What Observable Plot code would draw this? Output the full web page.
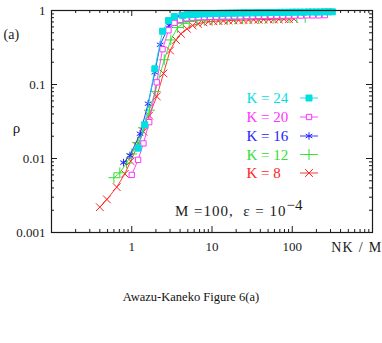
<!DOCTYPE html>
<html><head><meta charset="utf-8">
<script src="https://cdn.jsdelivr.net/npm/d3@7"></script>
<script src="https://cdn.jsdelivr.net/npm/@observablehq/plot@0.6"></script>
<style>
body{margin:0;background:#fff;}
#chart{position:relative;width:382px;height:343px;overflow:hidden;}
#chart svg{display:block;}
#caption{position:absolute;top:290px;left:0;width:382px;text-align:center;font:12.5px "Liberation Serif","Times New Roman",serif;color:#111;}
</style></head><body>
<div id="chart"><div id="caption">Awazu-Kaneko Figure 6(a)</div></div>
<script>
// ---- data (NK/M, rho) ----
const x24 = [1.2, 1.45, 1.94, 2.42, 2.87, 3.38, 4.3, 5, 5.6, 6.3, 7, 8, 9, 10, 11.2, 12.6, 14, 16, 18, 20, 22.4, 25, 28, 32, 36, 40, 45, 50, 56, 63, 71, 80, 90, 100, 112, 126, 141, 158, 178, 200, 224, 251, 282, 316];
const y24 = [0.0138, 0.0286, 0.163, 0.525, 0.73, 0.83, 0.86, 0.875, 0.885, 0.89, 0.895, 0.90, 0.905, 0.91, 0.91, 0.915, 0.915, 0.92, 0.92, 0.925, 0.925, 0.93, 0.93, 0.93, 0.935, 0.935, 0.935, 0.94, 0.94, 0.94, 0.945, 0.945, 0.945, 0.95, 0.95, 0.95, 0.95, 0.955, 0.955, 0.955, 0.955, 0.96, 0.96, 0.96];
const x20 = [1.0, 1.2, 1.4, 1.65, 2.05, 2.42, 2.87, 3.4, 4.0, 4.8, 5.7, 6.8, 8, 9.5, 11.3, 13.5, 16, 19, 22.6, 27, 32, 38, 45, 54, 64, 76, 90, 107, 128, 152, 180, 214, 255];
const y20 = [0.006, 0.0096, 0.016, 0.031, 0.107, 0.30, 0.54, 0.68, 0.75, 0.785, 0.80, 0.81, 0.815, 0.82, 0.825, 0.83, 0.83, 0.835, 0.835, 0.84, 0.84, 0.845, 0.845, 0.85, 0.85, 0.85, 0.855, 0.855, 0.855, 0.86, 0.86, 0.86, 0.865];
const x16 = [0.79, 0.95, 1.27, 1.6, 1.94, 2.26, 2.93, 3.4, 3.9, 4.6, 5.5, 6.6, 8, 10, 12.5, 16, 20, 25, 32, 40, 50, 63, 80, 100, 126, 160, 200];
const y16 = [0.0088, 0.011, 0.0216, 0.055, 0.146, 0.344, 0.63, 0.78, 0.84, 0.865, 0.875, 0.88, 0.885, 0.89, 0.89, 0.895, 0.895, 0.90, 0.90, 0.905, 0.905, 0.91, 0.91, 0.91, 0.915, 0.915, 0.915];
const x12 = [0.60, 0.71, 0.86, 1.0, 1.18, 1.40, 1.66, 1.96, 2.54, 3.07, 3.72, 4.4, 5.2, 6.5, 8, 10, 12.5, 15.5, 19.5, 24, 30, 38, 47, 59, 73, 91, 114, 145];
const y12 = [0.0055, 0.0064, 0.0087, 0.0115, 0.0165, 0.026, 0.045, 0.080, 0.216, 0.40, 0.59, 0.67, 0.71, 0.73, 0.745, 0.755, 0.76, 0.765, 0.77, 0.775, 0.78, 0.785, 0.79, 0.795, 0.80, 0.80, 0.805, 0.81];
const x8 = [0.40, 0.49, 0.65, 0.82, 0.97, 1.17, 1.40, 1.65, 2.05, 2.49, 3.0, 3.55, 4.1, 4.87, 5.74, 6.7, 7.8, 9.0, 10.4, 12, 13.9, 16, 18.5, 21.4, 24.7, 28.5, 33, 38, 44, 51, 59, 68, 79, 91, 105];
const y8 = [0.0022, 0.0028, 0.0041, 0.0062, 0.0092, 0.0145, 0.023, 0.038, 0.069, 0.141, 0.288, 0.40, 0.484, 0.566, 0.627, 0.661, 0.69, 0.705, 0.715, 0.72, 0.725, 0.73, 0.735, 0.74, 0.74, 0.745, 0.75, 0.75, 0.755, 0.755, 0.76, 0.76, 0.765, 0.765, 0.77];

const legendLabels = ["K = 24", "K = 20", "K = 16", "K = 12", "K = 8"];
const xTickLabels = [1, 10, 100];
const yTickLabels = [0.001, 0.01, 0.1, 1];
const xMajor = [1, 10, 100];
const xMinor = [0.2,0.3,0.4,0.5,0.6,0.7,0.8,0.9, 2,3,4,5,6,7,8,9, 20,30,40,50,60,70,80,90, 200,300,400,500,600,700,800,900];
const yMajor = [0.01, 0.1];
const yMinor = [0.002,0.003,0.004,0.005,0.006,0.007,0.008,0.009, 0.02,0.03,0.04,0.05,0.06,0.07,0.08,0.09, 0.2,0.3,0.4,0.5,0.6,0.7,0.8,0.9];

// ---- styling ----
const series = [
  {label: legendLabels[0], xs: x24, ys: y24, color: "#00e0e0", symbol: "square", fill: "#00e0e0", r: 3.4},
  {label: legendLabels[1], xs: x20, ys: y20, color: "#ff33ff", symbol: "square", fill: "white", r: 3.0},
  {label: legendLabels[2], xs: x16, ys: y16, color: "#2222ff", symbol: "asterisk", fill: "none", r: 3.6},
  {label: legendLabels[3], xs: x12, ys: y12, color: "#33dd33", symbol: "plus", fill: "none", r: 3.6},
  {label: legendLabels[4], xs: x8,  ys: y8,  color: "#ff2222", symbol: "times", fill: "none", r: 3.6}
];
const rowsOf = s => s.xs.map((x, i) => ({x, y: s.ys[i]}));

const W = 382, H = 265, mL = 51, mR = 10, mT = 10, mB = 33;
const fw = W - mL - mR, fh = H - mT - mB;
const font = '"Liberation Serif", "Times New Roman", serif';
const ink = "#1a1a1a";

const lineSym = {draw(ctx) { ctx.moveTo(-9, 0); ctx.lineTo(9, 0); }};

const drawOrder = [...series].reverse(); // K=8 first, K=24 on top
const dataMarks = drawOrder.flatMap(s => [
  Plot.line(rowsOf(s), {x: "x", y: "y", stroke: s.color, strokeWidth: 0.9}),
  Plot.dot(rowsOf(s), {x: "x", y: "y", symbol: s.symbol, r: s.r, stroke: s.color, fill: s.fill, strokeWidth: 1})
]);

const legendBase = [92.5, 111.5, 130.5, 149, 167.5];
const legendMarks = series.flatMap((s, i) => [
  Plot.text([s.label], {text: d => d, frameAnchor: "top-left", dx: 195, dy: legendBase[i], lineAnchor: "bottom", textAnchor: "start", fill: s.color, fontSize: 15}),
  Plot.dot([s], {frameAnchor: "top-left", dx: 257.5, dy: legendBase[i] - 5, symbol: lineSym, stroke: s.color, strokeWidth: 0.9, r: 3}),
  Plot.dot([s], {frameAnchor: "top-left", dx: 257.5, dy: legendBase[i] - 5, symbol: s.symbol, r: s.r, stroke: s.color, fill: s.fill, strokeWidth: 1})
]);

const plot = Plot.plot({
  width: W, height: H,
  marginLeft: mL, marginRight: mR, marginTop: mT, marginBottom: mB,
  style: {fontFamily: font, fontSize: "13px", color: ink, background: "white"},
  x: {type: "log", domain: [0.1, 1000], ticks: xTickLabels, tickFormat: d => String(d), tickSize: 0, tickPadding: 9, label: null},
  y: {type: "log", domain: [0.001, 1], ticks: yTickLabels, tickFormat: d => String(d), tickSize: 0, tickPadding: 6, label: null},
  marks: [
    // inward ticks on all four sides
    Plot.ruleX(xMajor, {x: d => d, insetTop: fh - 6, stroke: ink}),
    Plot.ruleX(xMajor, {x: d => d, insetBottom: fh - 6, stroke: ink}),
    Plot.ruleX(xMinor, {x: d => d, insetTop: fh - 3, stroke: ink}),
    Plot.ruleX(xMinor, {x: d => d, insetBottom: fh - 3, stroke: ink}),
    Plot.ruleY(yMajor, {y: d => d, insetRight: fw - 6, stroke: ink}),
    Plot.ruleY(yMajor, {y: d => d, insetLeft: fw - 6, stroke: ink}),
    Plot.ruleY(yMinor, {y: d => d, insetRight: fw - 3, stroke: ink}),
    Plot.ruleY(yMinor, {y: d => d, insetLeft: fw - 3, stroke: ink}),
    ...dataMarks,
    Plot.frame({stroke: ink, strokeWidth: 1.2}),
    ...legendMarks,
    // annotation
    Plot.text(["M =100,  ε = 10"], {text: d => d, frameAnchor: "bottom-left", dx: 235, dy: -17, textAnchor: "end", lineAnchor: "bottom", fontSize: 15, fill: ink, className: "annot"}),
    Plot.text(["−4"], {text: d => d, frameAnchor: "bottom-left", dx: 235, dy: -23, textAnchor: "start", lineAnchor: "bottom", fontSize: 15, fill: ink}),
    // axis labels
    Plot.text(["(a)"], {text: d => d, frameAnchor: "top-left", dx: -48, dy: 28, textAnchor: "start", lineAnchor: "bottom", fontSize: 14, fill: ink}),
    Plot.text(["ρ"], {text: d => d, frameAnchor: "left", dx: -35, dy: 11, textAnchor: "middle", lineAnchor: "bottom", fontSize: 15, fill: ink}),
    Plot.text(["NK / M"], {text: d => d, frameAnchor: "bottom-right", dx: 10, dy: 19, textAnchor: "end", lineAnchor: "bottom", fontSize: 14, fill: ink, className: "xlab"})
  ]
});
document.getElementById("chart").prepend(plot);
d3.select(plot).selectAll("g.annot text").attr("xml:space", "preserve").style("white-space", "pre").style("letter-spacing", "1px");
d3.select(plot).selectAll("g.xlab text").style("letter-spacing", "1.3px");
</script>
</body></html>
